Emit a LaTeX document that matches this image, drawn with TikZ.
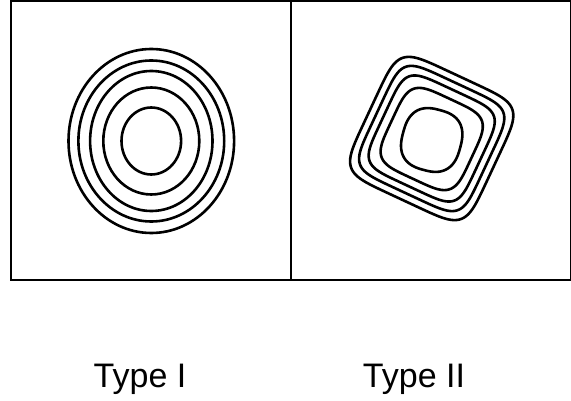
\documentclass[tikz,border=0pt]{standalone}
\usepackage{fontspec}
\setmainfont{Liberation Sans}
\newcommand\supell[6]{%
  \draw[contour] plot[smooth cycle, domain=0.5:357.5, samples=120, variable=\t]
    ({#1 + (#3*sign(cos(\t))*abs(cos(\t))^(2/#5))*cos(#6) - (#4*sign(sin(\t))*abs(sin(\t))^(2/#5))*sin(#6)},
     {#2 + (#3*sign(cos(\t))*abs(cos(\t))^(2/#5))*sin(#6) + (#4*sign(sin(\t))*abs(sin(\t))^(2/#5))*cos(#6)});}
\tikzset{
  frame/.style={line width=2.6pt, draw=black},
  contour/.style={line width=2.6pt, draw=black},
  label/.style={font=\fontsize{34}{40}\selectfont, anchor=base, inner sep=0pt}
}
\begin{document}
\begin{tikzpicture}[x=1pt, y=-1pt]
\useasboundingbox (0,0) rectangle (571,401);
% frame (top and right edges partly cut by the picture's border)
\draw[frame] (11,0.4) rectangle (570.8,280);
\draw[frame] (291,0.4) -- (291,280);
% Type I: ellipses
\foreach \rx/\ry in {82.8/92, 72.9/80.5, 61.2/70, 48/53.5, 29.8/33.5}
  \draw[contour] (151.3,141) ellipse [x radius=\rx, y radius=\ry];
% Type II: rotated rounded squares
\supell{431.7}{138.5}{68}{68}{6}{25}
\supell{431.7}{138.5}{60.5}{60.5}{6}{25}
\supell{431.7}{138.5}{53}{53}{5.5}{25}
\supell{431.7}{139}{44}{44}{4.5}{25}
\supell{431.7}{140}{29.5}{31}{2.6}{15}
% labels
\node[label] (t1) at (140,387.7) {Type I};
\node[label] (t2) at (414,387.7) {Type II};
\end{tikzpicture}
\end{document}
